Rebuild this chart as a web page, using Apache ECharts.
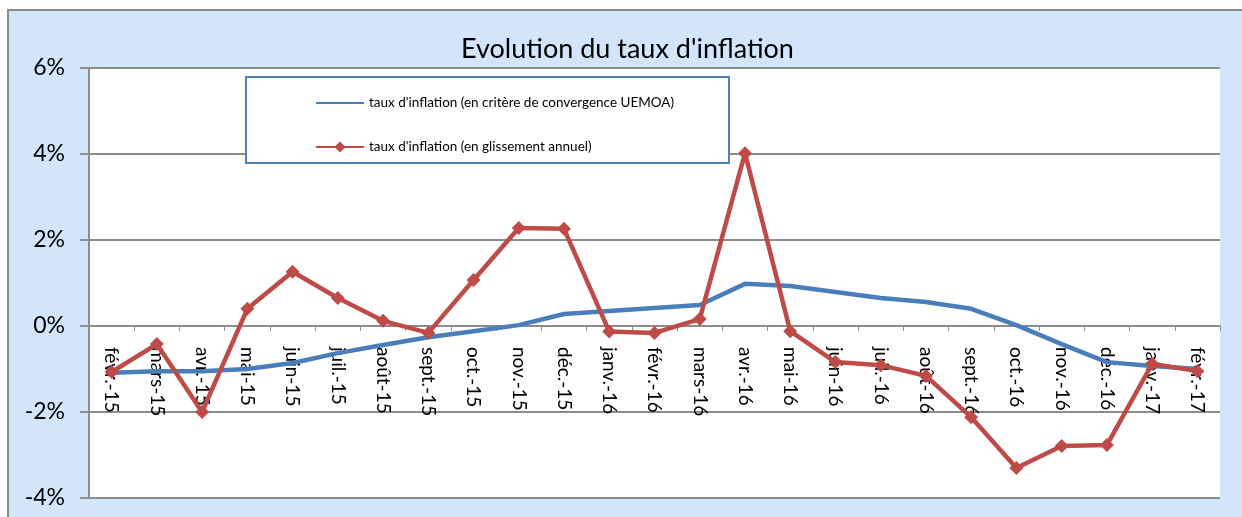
<!DOCTYPE html>
<html>
<head>
<meta charset="utf-8">
<script src="https://cdn.jsdelivr.net/npm/echarts@6/dist/echarts.min.js"></script>
<style>
  html, body { margin: 0; padding: 0; background: #fff; }
  .frame { position: absolute; left: 7px; top: 9px; width: 1240px; height: 515px;
    background: #D3E5FB; border: 2px solid #8C8C8C; box-sizing: border-box; }
  #chart { position: absolute; left: 0; top: 0; width: 1242px; height: 517px; }
</style>
</head>
<body>
<div class="frame"></div>
<div id="chart"></div>
<script>
const months = ['févr.-15', 'mars-15', 'avr.-15', 'mai-15', 'juin-15', 'juil.-15', 'août-15',
  'sept.-15', 'oct.-15', 'nov.-15', 'déc.-15', 'janv.-16', 'févr.-16', 'mars-16', 'avr.-16',
  'mai-16', 'juin-16', 'juil.-16', 'août-16', 'sept.-16', 'oct.-16', 'nov.-16', 'déc.-16',
  'janv.-17', 'févr.-17']

// taux d'inflation, critère de convergence UEMOA (%)
const uemoa = [-1.09, -1.05, -1.05, -1.0, -0.86, -0.63, -0.44, -0.26, -0.12, 0.02, 0.28,
  0.35, 0.42, 0.49, 0.98, 0.93, 0.79, 0.65, 0.56, 0.40, 0.02, -0.42, -0.84, -0.93, -1.0]

// taux d'inflation, glissement annuel (%)
const glissement = [-1.07, -0.42, -2.0, 0.40, 1.26, 0.65, 0.12, -0.16, 1.07, 2.28, 2.26,
  -0.13, -0.16, 0.16, 4.02, -0.12, -0.84, -0.91, -1.16, -2.12, -3.30, -2.79, -2.77, -0.88, -1.05]

const nameUemoa = "taux d'inflation (en critère de convergence UEMOA)"
const nameGliss = "taux d'inflation (en glissement annuel)"

const font = 'Lato, "Open Sans", sans-serif'

const chart = echarts.init(document.getElementById('chart'))
chart.setOption({
  animation: false,
  textStyle: { fontFamily: font },
  title: {
    text: "Evolution du taux d'inflation",
    left: 456,
    top: 31,
    textStyle: { fontSize: 27, fontWeight: 'normal', color: '#000', fontFamily: font }
  },
  graphic: [{
    type: 'rect',
    z: 10,
    shape: { x: 246, y: 77, width: 483, height: 86 },
    style: { fill: '#fff', stroke: '#4F81BD', lineWidth: 2 }
  }],
  legend: {
    z: 20,
    orient: 'vertical',
    left: 310,
    top: 91,
    itemGap: 30,
    itemWidth: 48,
    itemHeight: 14,
    data: [
      { name: nameUemoa, itemStyle: { opacity: 0 } },
      { name: nameGliss }
    ],
    textStyle: { fontSize: 13.5, color: '#000', fontFamily: font }
  },
  grid: {
    left: 89, top: 68, right: 22, bottom: 19,
    outerBoundsMode: 'none',
    show: true, backgroundColor: '#fff', borderWidth: 0
  },
  xAxis: {
    type: 'category',
    data: months,
    boundaryGap: true,
    position: 'bottom',
    offset: -172,
    z: 1,
    axisLine: { onZero: false, lineStyle: { color: '#8C8C8C', width: 2 } },
    axisTick: { show: true, length: 5, lineStyle: { color: '#8C8C8C', width: 1 } },
    axisLabel: { rotate: -90, margin: 21, fontSize: 19, color: '#000', interval: 0, fontFamily: font }
  },
  yAxis: {
    type: 'value',
    min: -4, max: 6, interval: 2,
    axisLine: { show: true, lineStyle: { color: '#8C8C8C', width: 2 } },
    axisTick: { show: true, length: 9, lineStyle: { color: '#8C8C8C', width: 2 } },
    axisLabel: { formatter: '{value}%', fontSize: 23, color: '#000', margin: 24, fontFamily: font },
    splitLine: { lineStyle: { color: '#8C8C8C', width: 2 } }
  },
  series: [
    {
      name: nameUemoa,
      type: 'line',
      data: uemoa,
      symbol: 'none',
      lineStyle: { color: '#4A7EBB', width: 4.5 },
      itemStyle: { color: '#4A7EBB' },
      z: 3
    },
    {
      name: nameGliss,
      type: 'line',
      data: glissement,
      symbol: 'diamond',
      symbolSize: 14,
      lineStyle: { color: '#BE4B48', width: 4.5 },
      itemStyle: { color: '#BE4B48' },
      z: 4
    }
  ]
})
</script>
</body>
</html>
